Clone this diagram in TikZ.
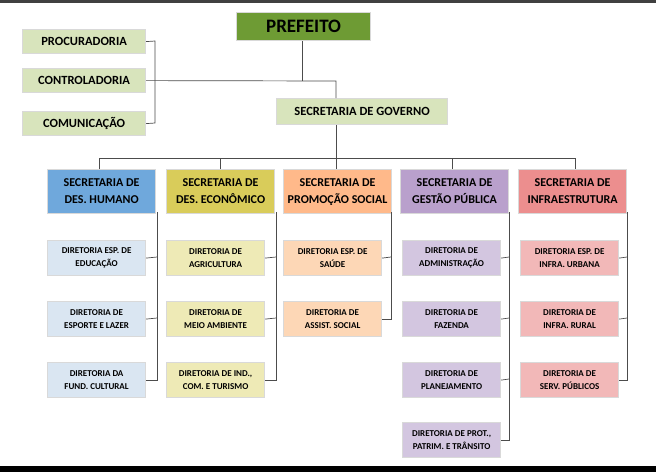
\documentclass[tikz,border=0pt]{standalone}
\usepackage{fontspec}
\setmainfont{Carlito}
\begin{document}
\begin{tikzpicture}[x=1pt,y=-1pt,
 bx/.style={draw=white!85!black,line width=1.2pt,font=\bfseries,align=center,inner sep=0pt,anchor=north west},
 ln/.style={draw=black!70,line width=0.7pt},
 dirs/.style={bx,font=\bfseries\fontsize{9}{13}\selectfont},
 secs/.style={bx,font=\bfseries\fontsize{12}{17}\selectfont},
]
\definecolor{gA}{HTML}{6E9B34}\definecolor{gB}{HTML}{D8E4BC}
\definecolor{bA}{HTML}{6FA8DC}\definecolor{bB}{HTML}{DAE6F2}
\definecolor{yA}{HTML}{D9CC5A}\definecolor{yB}{HTML}{EEEAB6}
\definecolor{oA}{HTML}{FFB98A}\definecolor{oB}{HTML}{FDD7B6}
\definecolor{pA}{HTML}{B9A0CC}\definecolor{pB}{HTML}{D3C6E0}
\definecolor{rA}{HTML}{EC8E8E}\definecolor{rB}{HTML}{F2B8B8}
\useasboundingbox (0,0) rectangle (656,472);
\fill[white] (0,0) rectangle (656,472);
\fill[black!75] (0,0) rectangle (656,3);
\fill[black] (0,466) rectangle (656,472);
\node[bx,fill=gA,minimum width=134pt,minimum height=28pt,font=\bfseries\fontsize{19}{22}\selectfont] (pf) at (236,12) {PREFEITO};
\node[bx,fill=gB,minimum width=123pt,minimum height=24pt,font=\bfseries\fontsize{12.5}{15}\selectfont] (pr) at (22,29) {PROCURADORIA};
\node[bx,fill=gB,minimum width=123pt,minimum height=24pt,font=\bfseries\fontsize{12.5}{15}\selectfont] (ct) at (22,68) {CONTROLADORIA};
\node[bx,fill=gB,minimum width=123pt,minimum height=24pt,font=\bfseries\fontsize{12.5}{15}\selectfont] (cm) at (22,111) {COMUNICAÇÃO};
\node[bx,fill=gB,minimum width=171pt,minimum height=26pt,font=\bfseries\fontsize{12.5}{15}\selectfont] (sg) at (276,98) {SECRETARIA DE GOVERNO};
\coordinate (j) at (302,81);
\draw[ln] (pf.south -| j) -- (j);
\draw[ln] (ct.east) -- (336,81) -- (336,98);
\draw[ln] (pr.east) -- (155,41) -- (155,123) -- (cm.east);
\foreach \n/\x/\c/\t in {s1/47/bA/{SECRETARIA DE\\DES. HUMANO},s2/166/yA/{SECRETARIA DE\\DES. ECONÔMICO},s3/283/oA/{SECRETARIA DE\\PROMOÇÃO SOCIAL},s4/400/pA/{SECRETARIA DE\\GESTÃO PÚBLICA},s5/518/rA/{SECRETARIA DE\\INFRAESTRUTURA}}
 \node[secs,fill=\c,minimum width=108pt,minimum height=44pt] (\n) at (\x,169) {\t};
\draw[ln] (sg.south -| 336,0) -- (336,169);
\draw[ln] (99,169) -- (99,158) -- (575,158) -- (575,169);
\draw[ln] (220,158) -- (220,169);
\draw[ln] (452,158) -- (452,169);
\foreach \n/\x/\y/\c/\t in {
 d11/47/240/bB/{DIRETORIA ESP. DE\\EDUCAÇÃO},d12/47/301/bB/{DIRETORIA DE\\ESPORTE E LAZER},d13/47/362/bB/{DIRETORIA DA\\FUND. CULTURAL},
 d21/166/240/yB/{DIRETORIA DE\\AGRICULTURA},d22/166/301/yB/{DIRETORIA DE\\MEIO AMBIENTE},d23/166/362/yB/{DIRETORIA DE IND.,\\COM. E TURISMO},
 d31/283/240/oB/{DIRETORIA ESP. DE\\SAÚDE},d32/283/301/oB/{DIRETORIA DE\\ASSIST. SOCIAL},
 d41/402/240/pB/{DIRETORIA DE\\ADMINISTRAÇÃO},d42/402/301/pB/{DIRETORIA DE\\FAZENDA},d43/402/362/pB/{DIRETORIA DE\\PLANEJAMENTO},d44/402/422/pB/{DIRETORIA DE PROT.,\\PATRIM. E TRÂNSITO},
 d51/520/240/rB/{DIRETORIA ESP. DE\\INFRA. URBANA},d52/520/301/rB/{DIRETORIA DE\\INFRA. RURAL},d53/520/362/rB/{DIRETORIA DE\\SERV. PÚBLICOS}}
 \node[dirs,fill=\c,minimum width=98pt,minimum height=35pt] (\n) at (\x,\y) {\t};
\draw[ln] (157,212) |- (d13.east); \draw[ln] (d11.east) -- (157,257); \draw[ln] (d12.east) -- (157,318);
\draw[ln] (276,212) |- (d23.east); \draw[ln] (d21.east) -- (276,257); \draw[ln] (d22.east) -- (276,318);
\draw[ln] (391,212) |- (d32.east); \draw[ln] (d31.east) -- (391,257);
\draw[ln] (509,212) |- (d44.east); \draw[ln] (d41.east) -- (509,257); \draw[ln] (d42.east) -- (509,318); \draw[ln] (d43.east) -- (509,379);
\draw[ln] (627,212) |- (d53.east); \draw[ln] (d51.east) -- (627,257); \draw[ln] (d52.east) -- (627,318);
\end{tikzpicture}
\end{document}
